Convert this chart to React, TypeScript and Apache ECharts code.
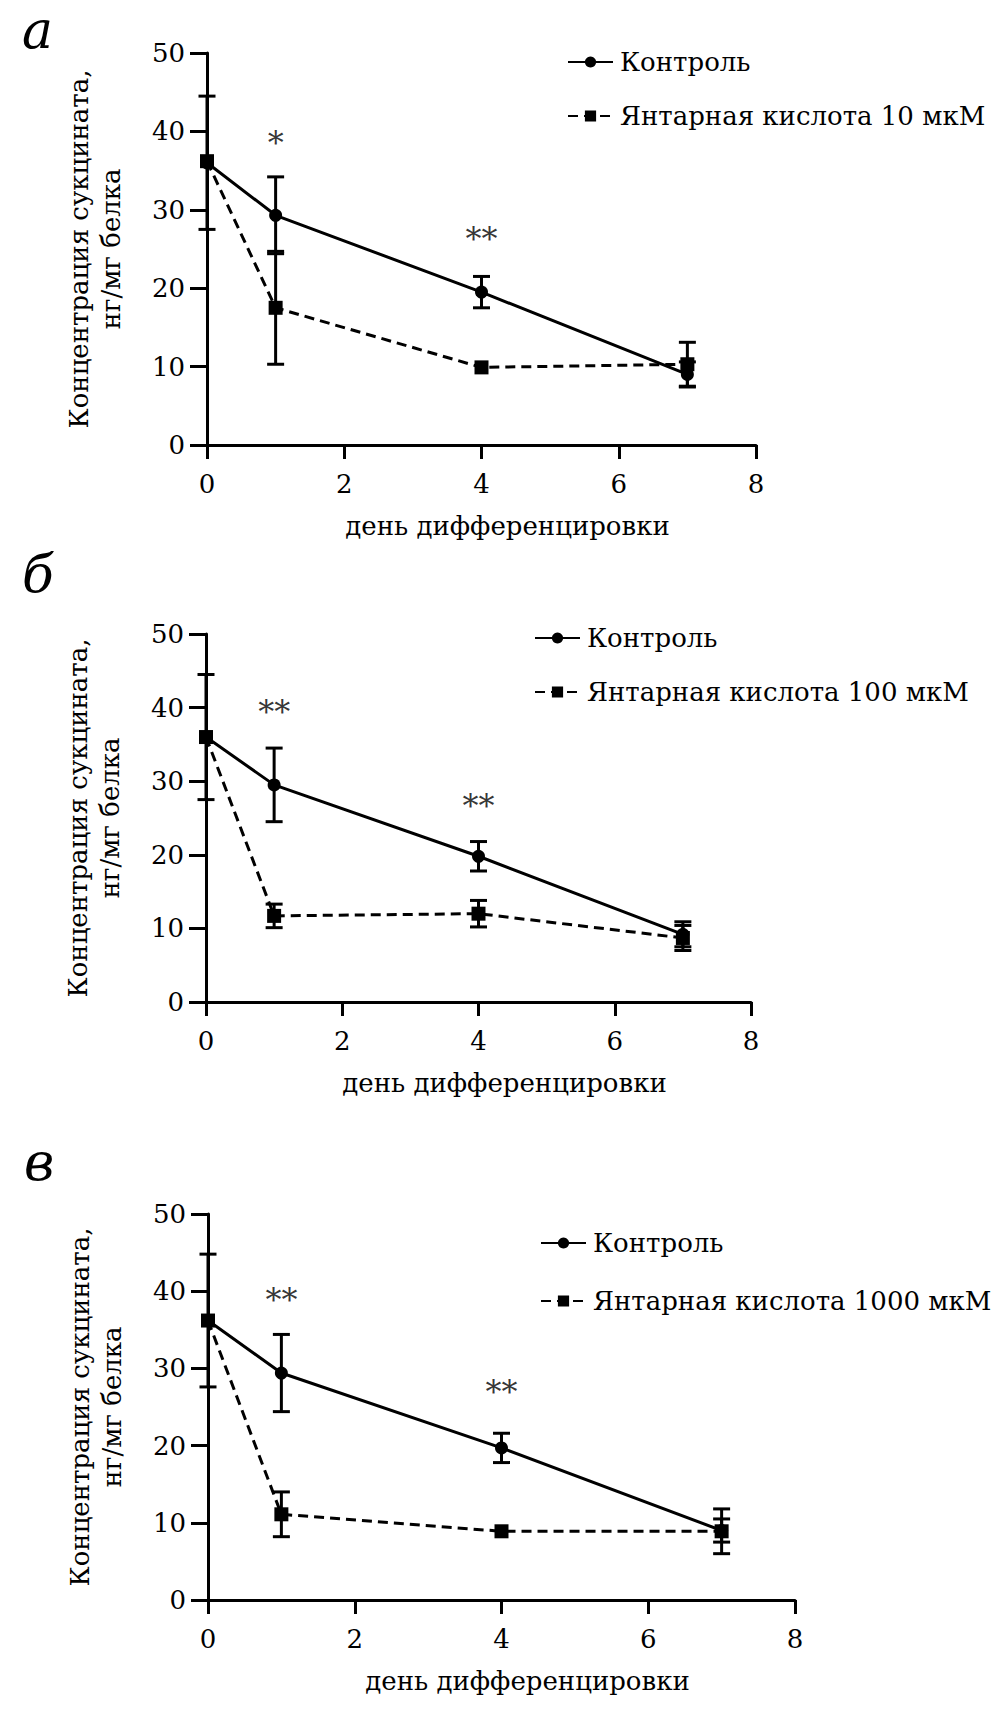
import React, { useEffect, useRef } from "react";
import * as echarts from "echarts";

// ---------- data ----------
const days = [0, 1, 4, 7];
const xTicks = [0, 2, 4, 6, 8];
const yTicks = [0, 10, 20, 30, 40, 50];

const controlName = "Контроль";
const acidNameA = "Янтарная кислота 10 мкМ";
const acidNameB = "Янтарная кислота 100 мкМ";
const acidNameC = "Янтарная кислота 1000 мкМ";

const controlA = [36.0, 29.3, 19.5, 9.0];
const controlErrA = [8.5, 4.9, 2.0, 1.6];
const acidA = [36.2, 17.5, 9.9, 10.3];
const acidErrA = [0, 7.2, 0, 2.8];

const controlB = [36.0, 29.5, 19.8, 9.2];
const controlErrB = [8.5, 5.0, 2.0, 1.7];
const acidB = [36.0, 11.7, 12.0, 8.7];
const acidErrB = [0, 1.6, 1.8, 1.7];

const controlC = [36.2, 29.4, 19.7, 9.0];
const controlErrC = [8.6, 5.0, 1.9, 1.5];
const acidC = [36.2, 11.1, 8.9, 8.9];
const acidErrC = [0, 2.9, 0, 2.9];

const starsA: [number, number, string][] = [[1, 39.3, "*"], [4, 27.0, "**"]];
const starsB: [number, number, string][] = [[1, 40.2, "**"], [4, 27.4, "**"]];
const starsC: [number, number, string][] = [[1, 39.7, "**"], [4, 27.7, "**"]];

const panelLetters = ["а", "б", "в"];
const xName = "день дифференцировки";
const yName = "Концентрация сукцината,\nнг/мг белка";

// ---------- helpers ----------
const FONT = "DejaVu Serif";
const FS = 26;

const pairs = (vals: number[]) => days.map((d, i) => [d, vals[i]]);
const errs = (vals: number[], e: number[]) =>
  days
    .map((d, i) => [d, vals[i] - e[i], vals[i] + e[i]])
    .filter((_, i) => e[i] > 0);

const errRender = (params: any, api: any) => {
  const x = api.value(0);
  const top = api.coord([x, api.value(2)]);
  const bot = api.coord([x, api.value(1)]);
  const hw = 8.5;
  const st = { stroke: "#000", lineWidth: 3 };
  return {
    type: "group",
    children: [
      { type: "line", shape: { x1: top[0], y1: top[1], x2: bot[0], y2: bot[1] }, style: st },
      { type: "line", shape: { x1: top[0] - hw, y1: top[1], x2: top[0] + hw, y2: top[1] }, style: st },
      { type: "line", shape: { x1: bot[0] - hw, y1: bot[1], x2: bot[0] + hw, y2: bot[1] }, style: st },
    ],
  };
};

const grids = [
  { left: 207, top: 53, width: 549, height: 392 },
  { left: 206, top: 634, width: 545, height: 368 },
  { left: 208, top: 1214, width: 587, height: 386 },
];

export default function App() {
  const ref = useRef<HTMLDivElement>(null);
  useEffect(() => {
    if (!ref.current) return;
    const chart = echarts.init(ref.current, undefined, { renderer: "svg" });

    const panels = [
      { control: controlA, cErr: controlErrA, acid: acidA, aErr: acidErrA, acidName: acidNameA, stars: starsA },
      { control: controlB, cErr: controlErrB, acid: acidB, aErr: acidErrB, acidName: acidNameB, stars: starsB },
      { control: controlC, cErr: controlErrC, acid: acidC, aErr: acidErrC, acidName: acidNameC, stars: starsC },
    ];

    const xAxis: any[] = [];
    const yAxis: any[] = [];
    const series: any[] = [];

    panels.forEach((p, i) => {
      xAxis.push({
        gridIndex: i,
        type: "value",
        min: xTicks[0],
        max: xTicks[xTicks.length - 1],
        interval: 2,
        name: xName,
        nameLocation: "middle",
        nameGap: 68,
        nameMoveOverlap: false,
        nameTextStyle: { color: "#000", fontSize: FS, fontFamily: FONT, padding: [0, 0, 0, 52] },
        axisLine: { show: true, onZero: false, lineStyle: { color: "#000", width: 3 } },
        axisTick: { show: true, length: 14, lineStyle: { color: "#000", width: 3 } },
        axisLabel: { color: "#000", fontSize: FS, fontFamily: FONT, margin: 26 },
        splitLine: { show: false },
      });
      yAxis.push({
        gridIndex: i,
        type: "value",
        min: yTicks[0],
        max: yTicks[yTicks.length - 1],
        interval: 10,
        name: yName,
        nameLocation: "middle",
        nameGap: 80,
        nameMoveOverlap: false,
        nameTextStyle: { color: "#000", fontSize: FS, fontFamily: FONT, lineHeight: 32, align: "center" },
        axisLine: { show: true, onZero: false, lineStyle: { color: "#000", width: 3 } },
        axisTick: { show: true, length: 17, lineStyle: { color: "#000", width: 3 } },
        axisLabel: { color: "#000", fontSize: FS, fontFamily: FONT, margin: 22 },
        splitLine: { show: false },
      });

      series.push({
        type: "custom",
        xAxisIndex: i,
        yAxisIndex: i,
        renderItem: errRender,
        data: errs(p.control, p.cErr),
        silent: true,
        z: 1,
      });
      series.push({
        type: "custom",
        xAxisIndex: i,
        yAxisIndex: i,
        renderItem: errRender,
        data: errs(p.acid, p.aErr),
        silent: true,
        z: 1,
      });
      series.push({
        name: controlName,
        type: "line",
        xAxisIndex: i,
        yAxisIndex: i,
        data: pairs(p.control),
        symbol: "circle",
        symbolSize: 13,
        itemStyle: { color: "#000" },
        lineStyle: { color: "#000", width: 3, type: "solid" },
        z: 3,
      });
      series.push({
        name: p.acidName,
        type: "line",
        xAxisIndex: i,
        yAxisIndex: i,
        data: pairs(p.acid),
        symbol: "rect",
        symbolSize: 14,
        itemStyle: { color: "#000" },
        lineStyle: { color: "#000", width: 3, type: [10, 6] },
        z: 4,
      });
      series.push({
        type: "scatter",
        xAxisIndex: i,
        yAxisIndex: i,
        data: p.stars,
        symbol: "circle",
        symbolSize: 1,
        itemStyle: { color: "rgba(0,0,0,0)" },
        silent: true,
        label: {
          show: true,
          position: "inside",
          offset: [0, 6],
          formatter: (q: any) => q.value[2],
          color: "#000",
          fontSize: 32,
          fontFamily: FONT,
        },
        z: 5,
      });
    });

    const legendPos = [
      { left: 562, top: 44 },
      { left: 529, top: 620 },
      { left: 535, top: 1225 },
    ];
    const legendGaps = [28, 28, 32];

    const legend = panels.map((p, i) => ({
      data: [controlName, p.acidName],
      orient: "vertical",
      left: legendPos[i].left,
      top: legendPos[i].top,
      itemWidth: 45,
      itemHeight: 14,
      itemGap: legendGaps[i],
      selectedMode: false,
      textStyle: { color: "#000", fontSize: FS, fontFamily: FONT, padding: [0, 0, 0, 2] },
    }));

    const letterPos = [
      { x: 22, y: 4 },
      { x: 22, y: 548 },
      { x: 24, y: 1136 },
    ];

    chart.setOption({
      animation: false,
      backgroundColor: "#fff",
      textStyle: { fontFamily: FONT },
      grid: grids.map((g) => ({ ...g, outerBoundsMode: "none", containLabel: false })),
      xAxis,
      yAxis,
      legend,
      series,
      graphic: panelLetters.map((t, i) => ({
        type: "text",
        left: letterPos[i].x,
        top: letterPos[i].y,
        style: { text: t, fontSize: 52, fontStyle: "italic", fontFamily: FONT, fill: "#000" },
      })),
    });

    return () => chart.dispose();
  }, []);

  return (
    <div
      ref={ref}
      style={{ position: "absolute", left: 0, top: 0, width: 992, height: 1713, background: "#fff" }}
    />
  );
}
